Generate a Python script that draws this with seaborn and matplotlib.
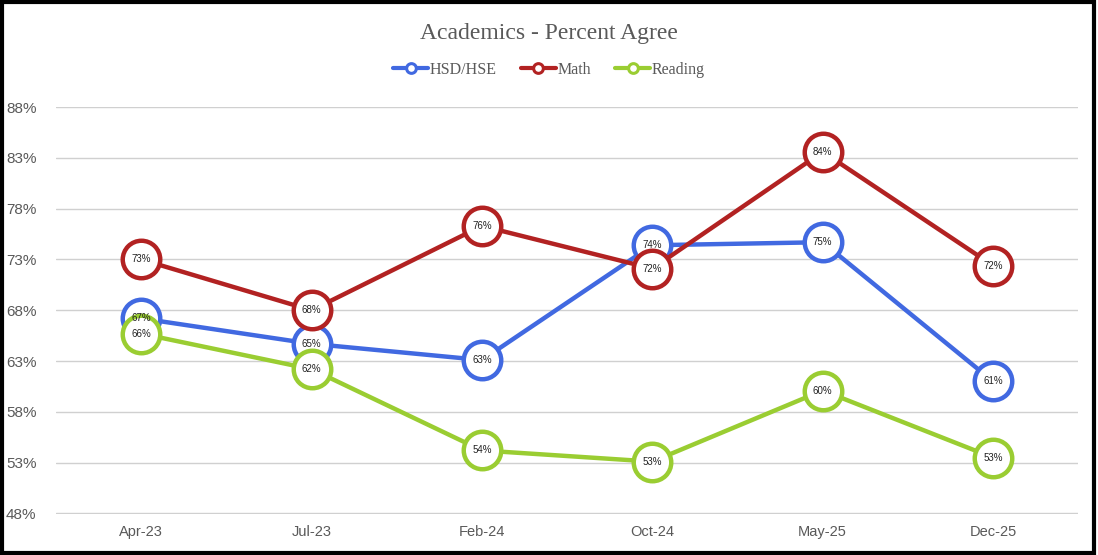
import matplotlib
matplotlib.use("Agg")
import matplotlib.pyplot as plt
import seaborn as sns
import pandas as pd
from matplotlib.lines import Line2D
from matplotlib.patches import Rectangle

categories = ["Apr-23", "Jul-23", "Feb-24", "Oct-24", "May-25", "Dec-25"]
hsd_hse = [67.2, 64.7, 63.1, 74.4, 74.7, 61.0]
math_vals = [73.0, 68.0, 76.3, 72.1, 83.6, 72.4]
reading = [65.7, 62.2, 54.2, 53.1, 60.1, 53.5]
hsd_labels = ["67%", "65%", "63%", "74%", "75%", "61%"]
math_labels = ["73%", "68%", "76%", "72%", "84%", "72%"]
reading_labels = ["66%", "62%", "54%", "53%", "60%", "53%"]
series_names = ["HSD/HSE", "Math", "Reading"]
y_ticks = [48, 53, 58, 63, 68, 73, 78, 83, 88]
colors = {"HSD/HSE": "#4169E1", "Math": "#B22222", "Reading": "#9ACD32"}

rows = []
for name, vals, labs in zip(series_names, [hsd_hse, math_vals, reading],
                            [hsd_labels, math_labels, reading_labels]):
    for i, (v, l) in enumerate(zip(vals, labs)):
        rows.append({"series": name, "pos": i, "cat": categories[i], "value": v, "label": l})
df = pd.DataFrame(rows)

sns.set_theme(style="white")
plt.rcParams["font.family"] = ["Liberation Sans", "DejaVu Sans"]

fig = plt.figure(figsize=(10.98, 5.55), dpi=100)
ax = fig.add_axes([0.051, 0.074, 0.931, 0.733])

for name in series_names:
    sub = df[df.series == name]
    sns.lineplot(data=sub, x="pos", y="value", ax=ax, color=colors[name], sort=False,
                 linewidth=3.2, marker="o", markersize=27, markerfacecolor="white",
                 markeredgecolor=colors[name], markeredgewidth=3.2, clip_on=False,
                 legend=False)

for _, r in df.iterrows():
    ax.text(r["pos"], r["value"], r["label"], ha="center", va="center",
            fontsize=7, color="#222222", zorder=10)

ax.set_xlim(-0.5, 5.5)
ax.set_ylim(47.95, 88)
ax.set_yticks(y_ticks)
ax.set_yticklabels([f"{t}%" for t in y_ticks])
ax.set_xticks(range(len(categories)))
ax.set_xticklabels(categories)
ax.set_xlabel("")
ax.set_ylabel("")
ax.grid(axis="y", color="#d0d0d0", linewidth=1)
ax.grid(axis="x", visible=False)
for s in ax.spines.values():
    s.set_visible(False)
ax.tick_params(axis="y", labelsize=11, colors="#595959", pad=14, length=0)
ax.tick_params(axis="x", labelsize=10.5, colors="#595959", pad=8, length=0)

fig.text(0.5, 0.94, "Academics - Percent Agree", ha="center", va="center",
         fontsize=17, color="#595959", family=["Liberation Serif", "DejaVu Serif"])

handles = [Line2D([0], [0], color=colors[n], linewidth=3, marker="o", markersize=7,
                  markerfacecolor="white", markeredgecolor=colors[n], markeredgewidth=2.2)
           for n in series_names]
leg = fig.legend(handles, series_names, loc="center", bbox_to_anchor=(0.5, 0.874),
                 ncol=3, frameon=False, handlelength=2.2, handletextpad=0.1,
                 columnspacing=1.5,
                 prop={"family": ["Liberation Serif", "DejaVu Serif"], "size": 11.5})
for t in leg.get_texts():
    t.set_color("#595959")

fig.patches.append(Rectangle((0.002, 0.004), 0.994, 0.992, transform=fig.transFigure,
                             fill=False, edgecolor="black", linewidth=3))

fig.savefig("out.png", dpi=100)
